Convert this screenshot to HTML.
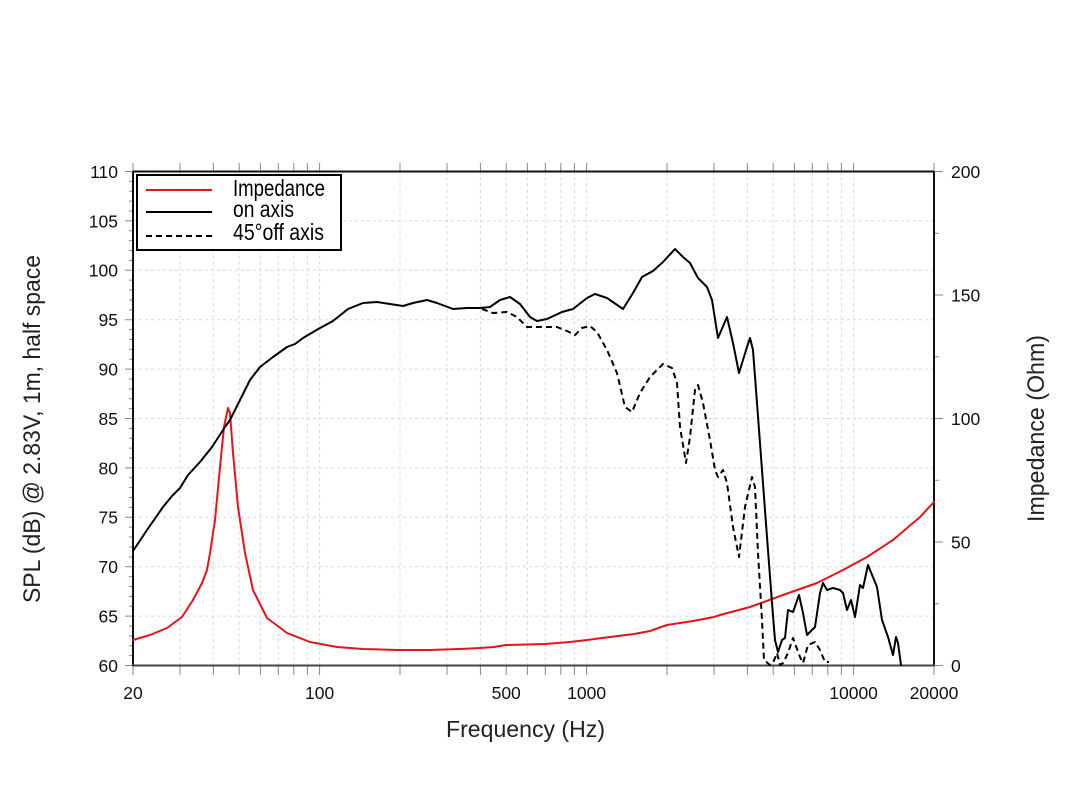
<!DOCTYPE html>
<html><head><meta charset="utf-8"><style>
html,body{margin:0;padding:0;background:#fff;}
svg{display:block;font-family:"Liberation Sans",sans-serif;}
</style></head><body>
<svg width="1071" height="803" viewBox="0 0 1071 803" xmlns="http://www.w3.org/2000/svg">
<rect width="1071" height="803" fill="#fff"/>
<!-- grid -->
<g stroke="#d9d9d9" stroke-width="1" stroke-dasharray="3,3" fill="none">
<path d="M180 171.5V665.5M213.4 171.5V665.5M239.2 171.5V665.5M260.4 171.5V665.5M278.3 171.5V665.5M293.8 171.5V665.5M307.4 171.5V665.5M319.6 171.5V665.5M400 171.5V665.5M447 171.5V665.5M480.4 171.5V665.5M506.2 171.5V665.5M527.4 171.5V665.5M545.3 171.5V665.5M560.8 171.5V665.5M574.4 171.5V665.5M586.6 171.5V665.5M667 171.5V665.5M714 171.5V665.5M747.4 171.5V665.5M773.2 171.5V665.5M794.4 171.5V665.5M812.3 171.5V665.5M827.8 171.5V665.5M841.4 171.5V665.5M853.6 171.5V665.5"/>
<path d="M133 616.1H934M133 566.7H934M133 517.3H934M133 467.9H934M133 418.5H934M133 369.1H934M133 319.7H934M133 270.3H934M133 220.9H934"/>
</g>
<!-- ticks -->
<g stroke="#888" stroke-width="1" fill="none">
<path d="M133 675V665.5M180 675V665.5M213.4 675V665.5M239.2 675V665.5M260.4 675V665.5M278.3 675V665.5M293.8 675V665.5M307.4 675V665.5M319.6 675V665.5M400 675V665.5M447 675V665.5M480.4 675V665.5M506.2 675V665.5M527.4 675V665.5M545.3 675V665.5M560.8 675V665.5M574.4 675V665.5M586.6 675V665.5M667 675V665.5M714 675V665.5M747.4 675V665.5M773.2 675V665.5M794.4 675V665.5M812.3 675V665.5M827.8 675V665.5M841.4 675V665.5M853.6 675V665.5M934 675V665.5"/>
<path d="M133 163V171.5M180 163V171.5M213.4 163V171.5M239.2 163V171.5M260.4 163V171.5M278.3 163V171.5M293.8 163V171.5M307.4 163V171.5M319.6 163V171.5M400 163V171.5M447 163V171.5M480.4 163V171.5M506.2 163V171.5M527.4 163V171.5M545.3 163V171.5M560.8 163V171.5M574.4 163V171.5M586.6 163V171.5M667 163V171.5M714 163V171.5M747.4 163V171.5M773.2 163V171.5M794.4 163V171.5M812.3 163V171.5M827.8 163V171.5M841.4 163V171.5M853.6 163V171.5M934 163V171.5"/>
<path d="M125 665.5H133M125 616.1H133M125 566.7H133M125 517.3H133M125 467.9H133M125 418.5H133M125 369.1H133M125 319.7H133M125 270.3H133M125 220.9H133M125 171.5H133"/>
<path d="M129 655.62H133M129 645.74H133M129 635.86H133M129 625.98H133M129 606.22H133M129 596.34H133M129 586.46H133M129 576.58H133M129 556.82H133M129 546.94H133M129 537.06H133M129 527.18H133M129 507.42H133M129 497.54H133M129 487.66H133M129 477.78H133M129 458.02H133M129 448.14H133M129 438.26H133M129 428.38H133M129 408.62H133M129 398.74H133M129 388.86H133M129 378.98H133M129 359.22H133M129 349.34H133M129 339.46H133M129 329.58H133M129 309.82H133M129 299.94H133M129 290.06H133M129 280.18H133M129 260.42H133M129 250.54H133M129 240.66H133M129 230.78H133M129 211.02H133M129 201.14H133M129 191.26H133M129 181.38H133"/>
<path d="M934 665.5H943M934 542H943M934 418.5H943M934 295H943M934 171.5H943M934 603.75H939M934 480.25H939M934 356.75H939M934 233.25H939"/>
</g>
<!-- axes frame -->
<path d="M133 171.5H934" stroke="#111" stroke-width="2"/>
<path d="M133 171.5V665.5" stroke="#111" stroke-width="2"/>
<path d="M934 171.5V665.5" stroke="#111" stroke-width="2"/>
<path d="M132 665.5H935" stroke="#444" stroke-width="2"/>
<!-- series -->
<g fill="none" stroke-linejoin="round" stroke-linecap="round">
<polyline stroke="#e3141b" stroke-width="2" points="133,640 150,635 167,628 182,617 193,600 202,583 207,570 210,553 215,520 220,467 224,427 228,408 230,413 233,453 238,507 245,553 253,590 267,618 287,633 310,642 337,647 363,649 397,650 430,650 460,649 480,648 494,647 506,645 545,644 570,642 587,640 610,637 634,634 650,631 667,625 680,623 693,621 714,617 720,615 750,607 783,595 817,583 843,570 867,557 893,540 920,517 934,502"/>
<polyline stroke="#000" stroke-width="2" points="133,551 147,530 163,507 172,496 180,488 188,475 200,462 212,447 225,427 230,420 240,400 250,380 260,367 273,357 287,347 295,344 303,338 320,328 333,321 348,309 363,303 377,302 390,304 403,306 413,303 427,300 437,303 453,309 467,308 480,308 490,307 500,300 510,297 520,304 530,317 537,321 547,319 562,312 573,309 587,298 595,294 607,298 623,309 633,293 642,277 653,271 663,262 675,249 683,257 690,263 698,278 707,287 712,300 718,338 727,317 733,343 739,373 747,347 750,338 753,350 757,403 762,470 767,537 772,603 775,640 778,652 782,640 785,638 788,610 793,612 799,595 803,613 807,635 815,627 820,593 823,583 827,590 833,588 840,590 843,593 847,610 851,600 855,617 860,585 863,588 868,565 877,587 882,620 888,637 893,655 896,637 898,643 901,665"/>
<polyline stroke="#000" stroke-width="2" stroke-linecap="butt" stroke-dasharray="6,4" points="482,309 493,313 507,312 517,317 527,327 540,327 557,327 567,331 575,335 582,328 590,326 597,332 607,350 617,373 625,407 632,412 640,393 650,377 663,364 672,368 677,383 680,427 686,463 690,437 695,390 698,385 703,403 710,440 715,470 718,477 723,470 727,483 733,527 739,557 745,507 752,477 755,487 758,553 762,620 764,660 770,665 773,663 777,653 780,665 783,663 788,653 793,638 800,657 803,663 808,645 815,642 820,650 825,662 829,662"/>
</g>
<!-- legend -->
<rect x="137" y="175" width="204" height="75" fill="#fff" stroke="#000" stroke-width="2"/>
<path d="M146 190H212" stroke="#e3141b" stroke-width="2"/>
<path d="M146 212H212" stroke="#000" stroke-width="2"/>
<path d="M146 236H212" stroke="#000" stroke-width="2" stroke-dasharray="6,4"/>
<g font-size="23" fill="#000">
<text x="233" y="196" textLength="92" lengthAdjust="spacingAndGlyphs">Impedance</text>
<text x="233" y="217" textLength="61" lengthAdjust="spacingAndGlyphs">on axis</text>
<text x="233" y="240" textLength="91" lengthAdjust="spacingAndGlyphs">45°off axis</text>
</g>
<!-- tick labels -->
<g font-size="17.5" fill="#111" text-anchor="end">
<text x="118" y="178">110</text>
<text x="118" y="227.3">105</text>
<text x="118" y="276.7">100</text>
<text x="118" y="326.1">95</text>
<text x="118" y="375.5">90</text>
<text x="118" y="424.9">85</text>
<text x="118" y="474.3">80</text>
<text x="118" y="523.7">75</text>
<text x="118" y="573.1">70</text>
<text x="118" y="622.5">65</text>
<text x="118" y="671.9">60</text>
</g>
<g font-size="17.5" fill="#111">
<text x="951" y="178">200</text>
<text x="951" y="301.4">150</text>
<text x="951" y="424.9">100</text>
<text x="951" y="548.4">50</text>
<text x="951" y="671.9">0</text>
</g>
<g font-size="17.5" fill="#111" text-anchor="middle">
<text x="133" y="699">20</text>
<text x="319.6" y="699">100</text>
<text x="506.2" y="699">500</text>
<text x="586.6" y="699">1000</text>
<text x="853.6" y="699">10000</text>
<text x="934" y="699">20000</text>
</g>
<!-- axis titles -->
<text x="446" y="737" font-size="23" fill="#222" textLength="159" lengthAdjust="spacingAndGlyphs">Frequency (Hz)</text>
<text transform="translate(40,603) rotate(-90)" font-size="24" fill="#222" textLength="348" lengthAdjust="spacingAndGlyphs">SPL (dB) @ 2.83V, 1m, half space</text>
<text transform="translate(1044,522) rotate(-90)" font-size="24" fill="#222" textLength="187" lengthAdjust="spacingAndGlyphs">Impedance (Ohm)</text>
</svg>
</body></html>
